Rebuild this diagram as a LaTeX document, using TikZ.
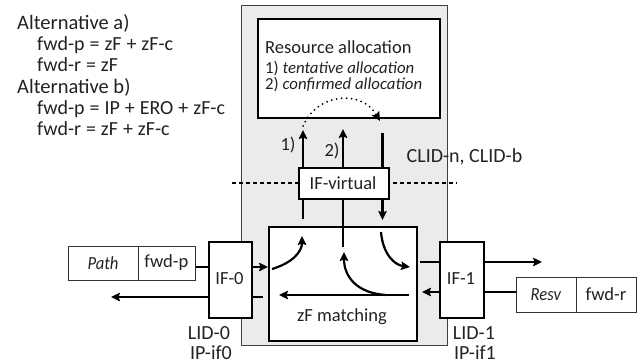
\documentclass[tikz,border=0pt]{standalone}
\usepackage{fontspec}
\setmainfont{Carlito}
\newfontfamily\widefont{Carlito}[WordSpace=1.1]
\usetikzlibrary{arrows.meta,calc}
\definecolor{bggray}{HTML}{EBEBEB}
\definecolor{txt}{HTML}{222222}
\newcommand\itx[1]{\scalebox{0.9}[1]{\textit{#1}}}
\begin{document}
\begin{tikzpicture}[x=1pt,y=-1pt,
  every node/.style={text=txt,font=\fontsize{18.5}{21}\selectfont,inner sep=0pt},
  bigtxt/.style={font=\fontsize{20}{23}\selectfont},
  smalltxt/.style={anchor=base west,font=\fontsize{16.8}{18}\selectfont},
  alttxt/.style={anchor=base west,font=\fontsize{20.5}{23}\selectfont},
  eqtxt/.style={anchor=base west,font=\widefont\fontsize{20}{23}\selectfont},
  bgbox/.style={draw=black!75,line width=0.8pt,fill=bggray,anchor=north west},
  tbox/.style={draw=black,line width=2.4pt,fill=white,anchor=north west},
  fbox/.style={draw=black!80,line width=0.9pt,fill=white,anchor=north west},
  conn/.style={draw=black,line width=2.2pt},
  arr/.style={conn,-{Stealth[length=9pt,width=8.5pt,inset=1.5pt]}},
  dotarr/.style={draw=black,line width=2pt,line cap=round,dash pattern=on 0pt off 5pt,-{Stealth[length=9pt,width=8.5pt,inset=1.5pt]}},
  lbl/.style={anchor=base west}]
\useasboundingbox (0,0) rectangle (643,364);
% background
\node[bgbox,minimum width=206pt,minimum height=340pt] (bg) at (241,5) {};
% dashed line
\coordinate (dl) at (232,183);
\coordinate (dr) at (457,183);
\draw[black,line width=2pt,dash pattern=on 4pt off 3pt] (dl) -- (dr);
% boxes
\node[tbox,minimum width=182pt,minimum height=99pt] (ra) at (257,18) {};
\node[lbl] (ra1) at (265,53) {Resource allocation};
\node[smalltxt] (ra2) at (265,73.5) {1) \textit{tentative allocation}};
\node[smalltxt] (ra3) at (265,89.5) {2) \textit{confirmed allocation}};
\node[tbox,minimum width=90pt,minimum height=30.5pt] (ifv) at (298,167) {};
\node (ifvt) at (343,183) {IF-virtual};
\node[tbox,minimum width=148pt,minimum height=114pt] (zf) at (268,226) {};
\node (zft) at (342,317) {zF matching};
\node[tbox,minimum width=43pt,minimum height=76pt] (if0) at (208,241) {};
\node (if0t) at (229.5,279) {IF-0};
\node[tbox,minimum width=44pt,minimum height=76pt] (if1) at (439,241) {};
\node (if1t) at (461,279) {IF-1};
\node[fbox,minimum width=69.7pt,minimum height=34pt] (path) at (68,246) {};
\node (patht) at (103,263) {\itx{Path}};
\node[fbox,minimum width=57.3pt,minimum height=34pt] (fwdp) at (137.7,246) {};
\node (fwdpt) at (166.3,263) {fwd-p};
\node[fbox,minimum width=60pt,minimum height=35pt] (resv) at (516,277) {};
\node (resvt) at (546,294.5) {\itx{Resv}};
\node[fbox,minimum width=60pt,minimum height=35pt] (fwdr) at (576,277) {};
\node (fwdrt) at (606,294.5) {fwd-r};
% text left
\node[alttxt] (t1) at (17,29.3) {Alternative a)};
\node[eqtxt] (t2) at (37,50.6) {fwd-p = zF + zF-c};
\node[eqtxt] (t3) at (37,71.9) {fwd-r = zF};
\node[alttxt] (t4) at (17,93.2) {Alternative b)};
\node[eqtxt] (t5) at (37,114.5) {fwd-p = IP + ERO + zF-c};
\node[eqtxt] (t6) at (37,135.8) {fwd-r = zF + zF-c};
% other labels
\node (l1) at (288,145) {1)};
\node (l2) at (332,151) {2)};
\node[bigtxt] (clid) at (464.5,157) {CLID-n, CLID-b};
\node[bigtxt] (lid0) at (209,333) {LID-0};
\node[bigtxt] (ip0) at (211,353) {IP-if0};
\node[bigtxt] (lid1) at (474,333) {LID-1};
\node[bigtxt] (ip1) at (475,353) {IP-if1};
% coordinates
\coordinate (u0) at (0,267);
\coordinate (l0) at (0,297);
\coordinate (u1) at (0,262);
\coordinate (l1c) at (0,292);
\coordinate (pout) at (111,297);
\coordinate (g0) at (263,297);
\coordinate (zfr) at (409,295);
\coordinate (zfl) at (279,295);
\coordinate (g1) at (420,262);
\coordinate (rout) at (542,262);
\coordinate (rin) at (422,292);
\coordinate (a1) at (303,130);
\coordinate (a2) at (343,129);
\coordinate (a3) at (382.5,133);
\coordinate (b1) at (303,219);
\coordinate (b2) at (343,247);
\coordinate (b3) at (382.5,220);
\coordinate (d0) at (303,126);
\coordinate (d1) at (380,121);
\coordinate (c1s) at (272,269);
\coordinate (c1e) at (302,236);
\coordinate (c2s) at (386,295);
\coordinate (c2e) at (344,252);
\coordinate (c3s) at (381,232);
\coordinate (c3e) at (410,267);
% connectors left
\draw[conn] (fwdp.east |- u0) -- (if0.west |- u0);
\draw[arr] (if0.east |- u0) -- (zf.west |- u0);
\draw[arr] (if0.west |- l0) -- (pout);
\draw[conn] (if0.east |- l0) -- (g0);
\draw[arr] (zfr) -- (zfl);
% right
\draw[conn] (g1) -- (if1.west |- u1);
\draw[arr] (if1.east |- u1) -- (rout);
\draw[conn] (resv.west |- l1c) -- (if1.east |- l1c);
\draw[arr] (if1.west |- l1c) -- (rin);
% IF-virtual
\draw[arr] (ifv.north -| a1) -- (a1);
\draw[arr] (ifv.north -| a2) -- (a2);
\draw[conn] (a3) -- (ifv.north -| a3);
\draw[conn] (ifv.south -| a1) -- (b1);
\draw[conn] (ifv.south -| a2) -- (b2);
\draw[arr] (ifv.south -| a3) -- (b3);
\draw[dotarr] (d0) .. controls (318,92) and (362,90) .. (d1);
% curves in zF
\draw[arr] (c1s) .. controls (292,263) and (302,252) .. (c1e);
\draw[arr] (c2s) .. controls (356,293) and (344,276) .. (c2e);
\draw[arr] (c3s) .. controls (383,255) and (395,265) .. (c3e);
\end{tikzpicture}
\end{document}
